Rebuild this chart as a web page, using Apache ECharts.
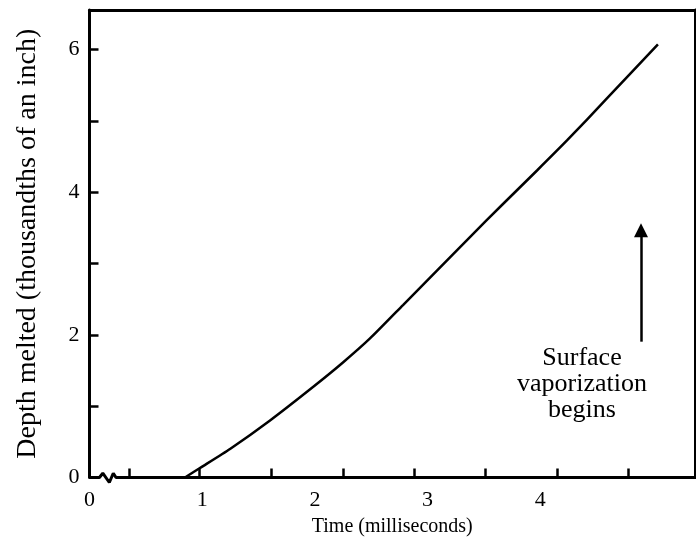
<!DOCTYPE html>
<html>
<head>
<meta charset="utf-8">
<script src="https://cdn.jsdelivr.net/npm/echarts@6/dist/echarts.min.js"></script>
<style>html,body{margin:0;padding:0;background:#fff}#c{width:696px;height:556px}</style>
</head>
<body>
<div id="c"></div>
<script>
// Melt curve: time (ms) vs depth melted (thousandths of an inch)
const timeMs = [0.847, 0.98, 1.247, 1.602, 1.983, 2.249, 2.489, 2.782, 3.083, 3.376, 3.669, 3.971, 4.237, 4.583, 5.044];
const depth  = [0.0, 0.133, 0.400, 0.800, 1.269, 1.613, 1.950, 2.419, 2.903, 3.373, 3.836, 4.306, 4.727, 5.302, 6.076];

// Axis ranges and ticks
const xMax = 5.373;
const yMax = 6.557;
const xLabelValues = [0, 1, 2, 3, 4];
const xTickValues = [0.35, 0.972, 1.61, 2.25, 2.88, 3.51, 4.15, 4.78];
const yLabelValues = [0, 2, 4, 6];

// Axis-break zigzag on the time axis
const breakX = [0.088, 0.118, 0.176, 0.211, 0.235];
const breakY = [0, 0.06, -0.07, 0.06, 0];

// Annotation
const arrowX = 4.894;
const arrowY = [1.905, 3.467];
const noteText = 'Surface\nvaporization\nbegins';
const notePos = [4.37, 1.31];

const FONT = 'Liberation Serif';
const curve = timeMs.map((t, i) => [t, depth[i]]);
const baseline = [[0, 0]].concat(breakX.map((x, i) => [x, breakY[i]])).concat([[xMax, 0]]);

const chart = echarts.init(document.getElementById('c'), null, {renderer: 'canvas'});
chart.setOption({
  animation: false,
  backgroundColor: '#fff',
  grid: {left: 89.5, right: 1, top: 10, bottom: 78.5, containLabel: false},
  xAxis: [{
    type: 'value', min: 0, max: xMax, position: 'bottom',
    name: 'Time (milliseconds)', nameLocation: 'middle', nameGap: 36,
    nameTextStyle: {fontFamily: FONT, fontSize: 20, color: '#000'},
    axisLine: {show: false},
    axisTick: {show: true, inside: true, length: 9, customValues: xTickValues, lineStyle: {color: '#000', width: 2.5}},
    axisLabel: {customValues: xLabelValues, fontFamily: FONT, fontSize: 22, color: '#000', margin: 12},
    splitLine: {show: false}
  }, {
    type: 'value', min: 0, max: xMax, position: 'top',
    axisLine: {show: true, onZero: false, lineStyle: {color: '#000', width: 3}},
    axisTick: {show: false}, axisLabel: {show: false}, splitLine: {show: false}
  }],
  yAxis: [{
    type: 'value', min: 0, max: yMax, interval: 1, position: 'left',
    name: 'Depth melted (thousandths of an inch)', nameLocation: 'middle', nameGap: 48,
    nameTextStyle: {fontFamily: FONT, fontSize: 28, color: '#000'},
    axisLine: {show: true, onZero: false, lineStyle: {color: '#000', width: 3}},
    axisTick: {show: true, inside: true, length: 9, lineStyle: {color: '#000', width: 2.5}},
    axisLabel: {customValues: yLabelValues, fontFamily: FONT, fontSize: 22, color: '#000', margin: 10},
    splitLine: {show: false}
  }, {
    type: 'value', min: 0, max: yMax, position: 'right',
    axisLine: {show: true, onZero: false, lineStyle: {color: '#000', width: 3}},
    axisTick: {show: false}, axisLabel: {show: false}, splitLine: {show: false}
  }],
  series: [{
    type: 'line', data: baseline, xAxisIndex: 0, yAxisIndex: 0,
    showSymbol: false, clip: false, silent: true,
    lineStyle: {color: '#000', width: 3}
  }, {
    type: 'line', data: curve, xAxisIndex: 0, yAxisIndex: 0,
    showSymbol: false, smooth: 0.2, clip: false,
    lineStyle: {color: '#000', width: 2.5},
    markLine: {
      silent: true, animation: false,
      lineStyle: {color: '#000', width: 2.5, type: 'solid'},
      label: {show: false},
      data: [[{coord: [arrowX, arrowY[0]], symbol: 'none'}, {coord: [arrowX, arrowY[1]], symbol: 'triangle', symbolSize: [14, 14]}]]
    }
  }, {
    type: 'scatter', data: [notePos], symbolSize: 0, silent: true,
    label: {show: true, position: 'inside', formatter: noteText, fontFamily: FONT, fontSize: 26, lineHeight: 26,
      color: '#000', textBorderWidth: 0, opacity: 1, align: 'center', verticalAlign: 'middle'}
  }]
});
</script>
</body>
</html>
